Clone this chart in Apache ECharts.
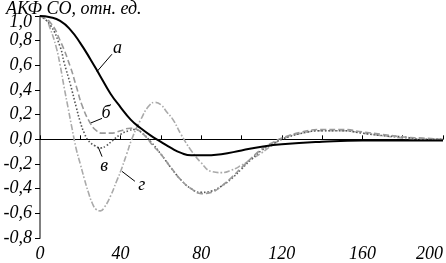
<!DOCTYPE html>
<html>
<head>
<meta charset="utf-8">
<script src="https://cdn.jsdelivr.net/npm/echarts@6/dist/echarts.min.js"></script>
<style>
  html, body { margin: 0; padding: 0; background: #fff; }
  #chart { width: 446px; height: 263px; }
</style>
</head>
<body>
<div id="chart"></div>
<script>
// lag (x) and ACF values for each curve
const curveA = [[0,1.0],[5,0.99],[10,0.96],[15,0.89],[20,0.78],[25,0.65],[30,0.51],[35,0.37],[40,0.26],[45,0.16],[50,0.09],[55,0.03],[60,-0.02],[65,-0.07],[70,-0.11],[75,-0.13],[80,-0.13],[90,-0.12],[100,-0.09],[110,-0.06],[120,-0.04],[140,-0.02],[160,-0.01],[200,-0.01]];
const curveB = [[0,1.0],[5,0.95],[10,0.8],[15,0.59],[18,0.43],[21,0.27],[25,0.13],[28,0.07],[31,0.05],[35,0.05],[40,0.07],[45,0.09],[48,0.08],[52,0.03],[56,-0.05],[60,-0.12],[65,-0.23],[70,-0.33],[75,-0.4],[80,-0.44],[85,-0.43],[90,-0.38],[95,-0.31],[100,-0.23],[105,-0.15],[110,-0.08],[115,-0.03],[120,0.01],[130,0.06],[140,0.08],[150,0.08],[160,0.06],[170,0.04],[180,0.02],[190,0.01],[200,0.0]];
const curveV = [[0,1.0],[5,0.93],[10,0.75],[12,0.62],[15,0.45],[18,0.26],[20,0.14],[22,0.05],[24,-0.01],[27,-0.05],[30,-0.07],[33,-0.05],[36,-0.01],[40,0.04],[44,0.07],[47,0.08],[50,0.06],[55,-0.02],[60,-0.12],[65,-0.23],[70,-0.33],[75,-0.4],[80,-0.43],[85,-0.42],[90,-0.38],[95,-0.32],[100,-0.24],[105,-0.16],[110,-0.09],[115,-0.04],[120,0.0],[130,0.05],[140,0.07],[150,0.07],[160,0.05],[170,0.03],[180,0.02],[190,0.0],[200,0.0]];
const curveG = [[0,1.0],[3,0.97],[5,0.9],[8,0.75],[10,0.6],[12,0.42],[14,0.25],[16,0.08],[18,-0.08],[20,-0.2],[22,-0.32],[24,-0.43],[26,-0.52],[28,-0.57],[30,-0.58],[32,-0.55],[35,-0.46],[38,-0.34],[40,-0.26],[43,-0.12],[46,0.02],[50,0.16],[54,0.27],[57,0.3],[60,0.28],[63,0.22],[66,0.16],[70,0.04],[75,-0.09],[80,-0.19],[85,-0.26],[90,-0.27],[95,-0.25],[100,-0.21],[105,-0.16],[110,-0.11],[115,-0.05],[120,0.0],[130,0.05],[140,0.07],[150,0.07],[160,0.05],[170,0.03],[180,0.01],[190,0.0],[200,0.0]];

const curveNames = ['а', 'б', 'в', 'г'];
// leader lines: [from x, from y, to x, to y] and label anchor [x, y]
const leaders = [[28.3,0.55,35.7,0.69],[24.8,0.13,30.8,0.17],[28.8,-0.06,30.8,-0.14],[40.7,-0.26,47.1,-0.34]];
const labelPos = [[38.5,0.74],[32.8,0.21],[31.8,-0.22],[50.5,-0.37]];

const serif = '"Liberation Serif", "DejaVu Serif", serif';

const chart = echarts.init(document.getElementById('chart'));

const styles = [
  { color: '#000', width: 2, type: 'solid' },
  { color: '#9a9a9a', width: 1.6, type: [6, 3] },
  { color: '#555', width: 1.6, type: [1.5, 2] },
  { color: '#aaa', width: 1.6, type: [6, 2, 1.5, 2] },
];

const series = [curveA, curveB, curveV, curveG].map((d, i) => ({
  name: curveNames[i],
  type: 'line',
  data: d,
  smooth: true,
  showSymbol: false,
  z: 10 - i,
  lineStyle: styles[i],
  markLine: {
    silent: true,
    symbol: 'none',
    animation: false,
    lineStyle: { color: '#000', width: 1, type: 'solid' },
    label: { show: false },
    data: [[
      { coord: [leaders[i][0], leaders[i][1]] },
      { coord: [leaders[i][2], leaders[i][3]] }
    ]]
  },
  markPoint: {
    silent: true,
    symbol: 'circle',
    symbolSize: 1,
    animation: false,
    itemStyle: { color: 'rgba(0,0,0,0)' },
    label: {
      show: true,
      position: 'inside',
      formatter: curveNames[i],
      fontFamily: serif,
      fontStyle: 'italic',
      fontSize: 18,
      color: '#000'
    },
    data: [{ coord: labelPos[i] }]
  }
}));

chart.setOption({
  animation: false,
  title: {
    text: 'АКФ СО, отн. ед.',
    left: 1,
    top: -5,
    textStyle: { fontFamily: serif, fontStyle: 'italic', fontWeight: 'normal', fontSize: 18, color: '#000' }
  },
  grid: { left: 40, right: 3, top: 16, bottom: 22 },
  xAxis: {
    type: 'value',
    min: 0,
    max: 200,
    interval: 20,
    axisLine: { lineStyle: { color: '#000', width: 1 } },
    axisTick: { inside: true, length: 4, lineStyle: { color: '#000' } },
    splitLine: { show: false },
    axisLabel: {
      margin: 7,
      fontFamily: serif,
      fontStyle: 'italic',
      fontSize: 18,
      color: '#000',
      alignMaxLabel: 'right',
      formatter: v => (v % 40 === 0 ? String(v) : '')
    }
  },
  yAxis: {
    type: 'value',
    min: -0.8,
    max: 1.0,
    interval: 0.2,
    axisLine: { show: true, lineStyle: { color: '#808080', width: 2 } },
    axisTick: { show: true, length: 5, lineStyle: { color: '#000' } },
    splitLine: { show: false },
    axisLabel: {
      margin: 8,
      fontFamily: serif,
      fontStyle: 'italic',
      fontSize: 18,
      lineHeight: 12,
      color: '#000',
      formatter: v => {
        const s = v.toFixed(1).replace('.', ',');
        return v >= 1 ? '\n' + s : s;
      }
    }
  },
  series: series
});
</script>
</body>
</html>
